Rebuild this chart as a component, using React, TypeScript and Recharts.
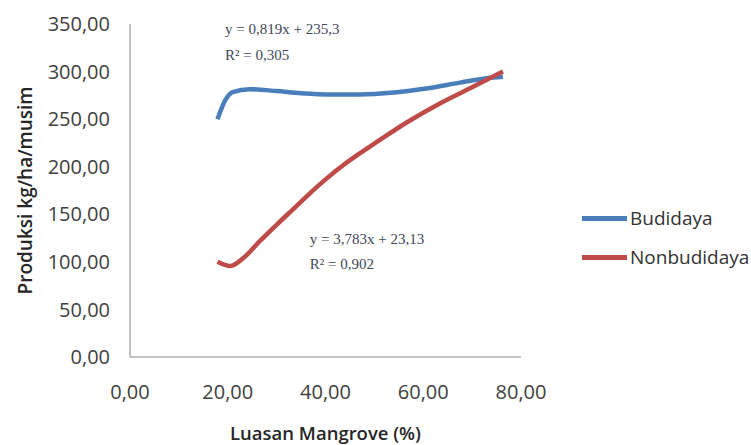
import React from 'react';
import { LineChart, Line, XAxis, YAxis, ReferenceDot } from 'recharts';

// Luasan Mangrove (%) and Produksi kg/ha/musim
const budidayaX = [17.9, 19.5, 21, 24.5, 30, 35, 41.5, 47, 54, 61, 67.5, 73, 76.3];
const budidayaY = [250, 270, 278.5, 281.5, 279.5, 277.3, 276, 276, 278, 282.5, 288.4, 293, 294.5];
const nonbudidayaX = [17.9, 20.5, 23.2, 26.6, 30, 33.4, 36.8, 40.2, 43.6, 47, 50.5, 56.6, 63.4, 70.2, 76.3];
const nonbudidayaY = [100, 95.6, 104, 122, 139, 155.5, 172, 187.5, 201.5, 214, 226, 246.5, 266.5, 284, 300];

const xTicks = [0, 20, 40, 60, 80];
const yTicks = [0, 50, 100, 150, 200, 250, 300, 350];

const seriesNames = ['Budidaya', 'Nonbudidaya'];
const seriesColors = ['#4A7EBB', '#BE4B48'];

const eqBudidaya = ['y = 0,819x + 235,3', 'R² = 0,305'];
const eqNonbudidaya = ['y = 3,783x + 23,13', 'R² = 0,902'];
const eqBudidayaAt = { x: 19.44, y: 339 };
const eqNonbudidayaAt = { x: 36.8, y: 118.8 };

const budidayaData = budidayaX.map((x, i) => ({ x, y: budidayaY[i] }));
const nonbudidayaData = nonbudidayaX.map((x, i) => ({ x, y: nonbudidayaY[i] }));

const fmt = (v: number) => v.toFixed(2).replace('.', ',');

const tickFont = { fontFamily: '"Open Sans", sans-serif', fontSize: 20, fill: '#404040' };

const eqLabel = (lines: string[]) => (props: any) => {
  const vb = props.viewBox || {};
  const x = (vb.x ?? 0) + (vb.width ?? 0) / 2;
  const y = (vb.y ?? 0) + (vb.height ?? 0) / 2;
  return (
    <g>
      {lines.map((t, i) => (
        <text
          key={i}
          x={x}
          y={y + i * 25.5}
          fontFamily='"Liberation Serif", "Times New Roman", serif'
          fontSize={15}
          fill="#404858"
        >
          {t}
        </text>
      ))}
    </g>
  );
};

export default function App() {
  return (
    <div style={{ position: 'absolute', left: 0, top: 0, width: 751, height: 445, background: '#fff' }}>
      <LineChart width={751} height={445} margin={{ top: 24, right: 230, bottom: 0, left: 0 }}>
        <XAxis
          type="number"
          dataKey="x"
          domain={[0, 80]}
          ticks={xTicks}
          tickFormatter={fmt}
          allowDataOverflow
          height={88}
          tickLine={false}
          tickSize={0}
          tickMargin={28}
          axisLine={{ stroke: '#898989', strokeWidth: 1 }}
          tick={tickFont}
          label={{
            value: 'Luasan Mangrove (%)',
            position: 'insideBottom',
            offset: 5,
            style: { fontFamily: '"Open Sans", sans-serif', fontSize: 18.5, fontWeight: 600, fill: '#262626' },
          }}
        />
        <YAxis
          type="number"
          domain={[0, 350]}
          ticks={yTicks}
          tickFormatter={fmt}
          width={130}
          tickLine={false}
          tickSize={0}
          tickMargin={20}
          axisLine={{ stroke: '#898989', strokeWidth: 1 }}
          tick={tickFont}
          label={{
            value: 'Produksi kg/ha/musim',
            angle: -90,
            position: 'insideLeft',
            offset: 25,
            style: { textAnchor: 'middle', fontFamily: '"Open Sans", sans-serif', fontSize: 19, fontWeight: 600, fill: '#262626' },
          }}
        />
        <Line
          data={budidayaData}
          dataKey="y"
          name={seriesNames[0]}
          type="monotone"
          stroke={seriesColors[0]}
          strokeWidth={4.5}
          dot={false}
          activeDot={false}
          isAnimationActive={false}
        />
        <Line
          data={nonbudidayaData}
          dataKey="y"
          name={seriesNames[1]}
          type="monotone"
          stroke={seriesColors[1]}
          strokeWidth={4.5}
          dot={false}
          activeDot={false}
          isAnimationActive={false}
        />
        <ReferenceDot x={eqBudidayaAt.x} y={eqBudidayaAt.y} r={1} fill="none" stroke="none" ifOverflow="visible" label={eqLabel(eqBudidaya)} />
        <ReferenceDot x={eqNonbudidayaAt.x} y={eqNonbudidayaAt.y} r={1} fill="none" stroke="none" ifOverflow="visible" label={eqLabel(eqNonbudidaya)} />
      </LineChart>
      <div style={{ position: 'absolute', left: 582, top: 205, fontFamily: '"Open Sans", sans-serif', fontSize: 19, color: '#333' }}>
        {seriesNames.map((n, i) => (
          <div key={n} style={{ display: 'flex', alignItems: 'center', height: 26, marginBottom: i === 0 ? 13 : 0 }}>
            <div style={{ width: 45, height: 5, background: seriesColors[i], marginRight: 3 }} />
            <span>{n}</span>
          </div>
        ))}
      </div>
    </div>
  );
}
